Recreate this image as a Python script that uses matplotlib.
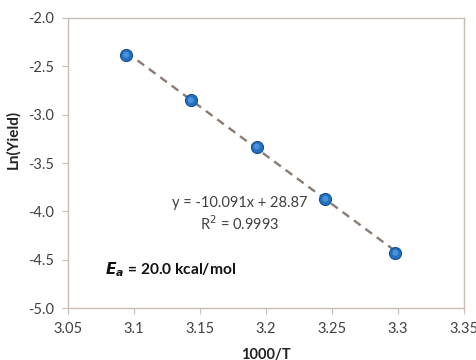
import matplotlib

matplotlib.use("Agg")
import matplotlib.pyplot as plt
import numpy as np

# Arrhenius data
inv_temp = [3.094, 3.143, 3.193, 3.245, 3.298]
ln_yield = [-2.38, -2.85, -3.33, -3.87, -4.43]
slope, intercept = -10.091, 28.87

x_ticks = [3.05, 3.1, 3.15, 3.2, 3.25, 3.3, 3.35]
x_labels = ["3.05", "3.1", "3.15", "3.2", "3.25", "3.3", "3.35"]
y_ticks = [-5.0, -4.5, -4.0, -3.5, -3.0, -2.5, -2.0]

plt.rcParams["font.family"] = ["Lato", "DejaVu Sans"]

spine_col = "#cbbdb6"
text_col = "#404040"

fig = plt.figure(figsize=(4.77, 3.6), dpi=100, facecolor="white")
ax = fig.add_axes([0.1426, 0.1444, 0.8301, 0.8056])

fit_x = np.array([inv_temp[0], inv_temp[-1]])
ax.plot(fit_x, slope * fit_x + intercept, linestyle=(0, (3.5, 2.5)), color="#8a7b72", linewidth=1.7, zorder=2)
ax.scatter(inv_temp, ln_yield, s=75, color="#2471c0", edgecolors="#15508f", linewidths=0.8, zorder=3)
# small lighter core to mimic the glossy markers
ax.scatter(inv_temp, ln_yield, s=18, color="#4a93dc", edgecolors="none", zorder=4)

ax.set_xlim(3.05, 3.35)
ax.set_ylim(-5.0, -2.0)
ax.set_xticks(x_ticks)
ax.set_xticklabels(x_labels)
ax.set_yticks(y_ticks)
ax.set_yticklabels([f"{v:.1f}" for v in y_ticks])
for spine in ax.spines.values():
    spine.set_color(spine_col)
    spine.set_linewidth(1.0)
ax.tick_params(direction="out", length=4, color=spine_col, labelsize=10.5, labelcolor=text_col, pad=6)

ax.set_xlabel("1000/T", fontsize=10.5, fontweight="bold", color="#222222", labelpad=9)
ax.set_ylabel("Ln(Yield)", fontsize=11, fontweight="bold", color="#222222")
ax.yaxis.set_label_coords(-0.121, 0.58)

ax.text(3.180, -4.03, "y = -10.091x + 28.87\nR$^2$ = 0.9993", ha="center", va="center",
        fontsize=10.5, color=text_col, linespacing=1.3)
ax.text(3.078, -4.60, r"$\bfit{E_a}$ = 20.0 kcal/mol", ha="left", va="center",
        fontsize=11.2, fontweight="bold", color="#111111")

fig.savefig("out.png", dpi=100)
